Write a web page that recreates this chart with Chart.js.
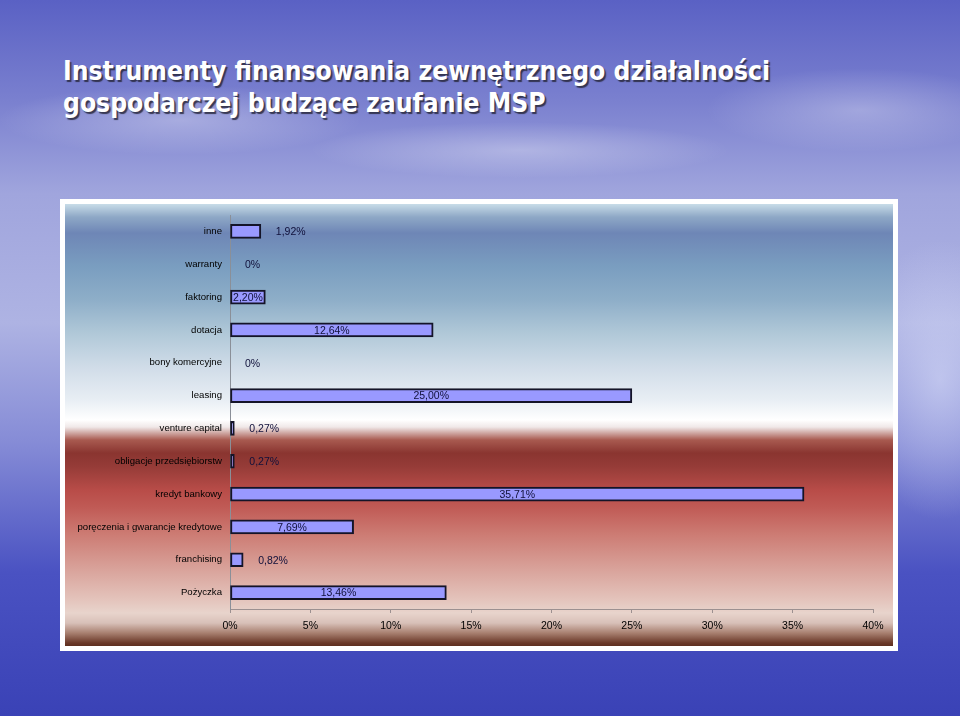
<!DOCTYPE html>
<html>
<head>
<meta charset="utf-8">
<script src="https://cdn.jsdelivr.net/npm/chart.js@4.4.0/dist/chart.umd.min.js"></script>
<style>
  html, body { margin: 0; padding: 0; }
  body {
    width: 960px; height: 716px; position: relative; overflow: hidden;
    background:
      radial-gradient(ellipse 260px 50px at 180px 120px, rgba(255,255,255,0.3), rgba(255,255,255,0) 70%),
      radial-gradient(ellipse 300px 40px at 520px 150px, rgba(255,255,255,0.3), rgba(255,255,255,0) 70%),
      radial-gradient(ellipse 220px 60px at 860px 110px, rgba(255,255,255,0.28), rgba(255,255,255,0) 70%),
      radial-gradient(ellipse 120px 200px at 940px 380px, rgba(220,225,250,0.55), rgba(220,225,250,0) 70%),
      linear-gradient(to bottom, #5a61c4 0%, #7a80cf 14%, #a0a5dd 27%, #aeb3e3 45%, #858bd6 62%, #4a52c2 80%, #3a42b6 100%);
  }
  #title {
    position: absolute; left: 63px; top: 55px;
    color: #fff; font-family: "DejaVu Sans", sans-serif;
    font-weight: bold; font-size: 27px; line-height: 32px; white-space: nowrap;
    text-shadow: 2px 2px 1px rgba(40,40,60,0.85);
    transform-origin: 0 0;
  }
  #panel {
    position: absolute; left: 60px; top: 199px; width: 828px; height: 442px;
    border: 5px solid #fff;
    background: linear-gradient(to bottom,
      #c8dce8 0px, #8ea8c6 13px, #6e86b6 29px, #7a9ec0 63px, #8eaec8 96px,
      #b0c8d8 129px, #d0dce8 163px, #e8eef4 196px, #ffffff 216px, #f0e8e8 223px,
      #a85a50 236px, #8a3530 249px, #963c38 263px, #b84c48 286px, #c05a55 303px,
      #cc7a72 329px, #d8a098 363px, #e4c4bc 396px, #e8d4cc 409px, #d8c0b8 419px,
      #a88070 429px, #6a3828 439px, #5e2f20 442px);
  }
  #chart { position: absolute; left: 0; top: 0; }
</style>
</head>
<body>
<div id="title">Instrumenty finansowania zewnętrznego działalności<br>gospodarczej budzące zaufanie MSP</div>
<div id="panel"><canvas id="chart" width="828" height="442"></canvas></div>
<script>
// categories, top to bottom as on the slide
const categories = [
  'inne', 'warranty', 'faktoring', 'dotacja', 'bony komercyjne', 'leasing',
  'venture capital', 'obligacje przedsiębiorstw', 'kredyt bankowy',
  'poręczenia i gwarancje kredytowe', 'franchising', 'Pożyczka'
];
const shares = [1.92, 0, 2.20, 12.64, 0, 25.00, 0.27, 0.27, 35.71, 7.69, 0.82, 13.46];
const xTicks = [0, 5, 10, 15, 20, 25, 30, 35, 40];

// squeeze the title horizontally so the first line is as wide as on the slide
const titleEl = document.getElementById('title');
const probe = document.createElement('span');
probe.style.whiteSpace = 'nowrap';
probe.textContent = 'Instrumenty finansowania zewnętrznego działalności';
titleEl.appendChild(probe);
const wide = probe.getBoundingClientRect().width;
titleEl.removeChild(probe);
titleEl.style.transform = 'scaleX(' + (707 / wide).toFixed(4) + ')';

function pct(v) {
  if (v === 0) return '0%';
  return v.toFixed(2).replace('.', ',') + '%';
}

// value labels: centred in the bar when they fit, else just past its end
const valueLabels = {
  id: 'valueLabels',
  afterDatasetsDraw(chart) {
    const ctx = chart.ctx;
    const meta = chart.getDatasetMeta(0);
    ctx.save();
    ctx.font = '10.5px "Liberation Sans", Arial, sans-serif';
    ctx.fillStyle = '#10103a';
    ctx.textBaseline = 'middle';
    ctx.textAlign = 'left';
    meta.data.forEach((bar, i) => {
      const txt = pct(shares[i]);
      const w = ctx.measureText(txt).width;
      const barW = bar.x - bar.base;
      let x;
      if (barW >= w + 4) x = bar.base + barW / 2 - w / 2;
      else x = bar.x + 15;
      ctx.fillText(txt, x, bar.y + 1);
    });
    ctx.restore();
  }
};

new Chart(document.getElementById('chart'), {
  type: 'bar',
  data: {
    labels: categories,
    datasets: [{
      data: shares,
      backgroundColor: '#9999ff',
      borderColor: '#141428',
      borderWidth: 2,
      borderSkipped: false,
      barThickness: 14
    }]
  },
  options: {
    indexAxis: 'y',
    responsive: false,
    animation: false,
    layout: { padding: { top: 11, right: 20, left: 0, bottom: 0 } },
    plugins: {
      legend: { display: false },
      tooltip: { enabled: false }
    },
    scales: {
      x: {
        min: 0,
        max: 40,
        afterBuildTicks: axis => { axis.ticks = xTicks.map(v => ({ value: v })); },
        afterFit: axis => { axis.height = 37; },
        border: { display: true, color: '#9c9090', width: 1 },
        grid: { display: true, drawOnChartArea: false, drawTicks: true, tickLength: 4, color: '#9c9090' },
        ticks: {
          color: '#000',
          padding: 7,
          font: { family: '"Liberation Sans", Arial, sans-serif', size: 10.5 },
          callback: v => v + '%'
        }
      },
      y: {
        afterFit: axis => {
          axis.width = 165;
          axis.paddingTop = 0;
          axis.paddingBottom = 0;
        },
        border: { display: true, color: '#8a8f98', width: 1 },
        grid: { display: false, drawTicks: false },
        ticks: {
          color: '#000',
          padding: 8,
          font: { family: '"Liberation Sans", Arial, sans-serif', size: 9.6 }
        }
      }
    }
  },
  plugins: [valueLabels]
});
</script>
</body>
</html>
